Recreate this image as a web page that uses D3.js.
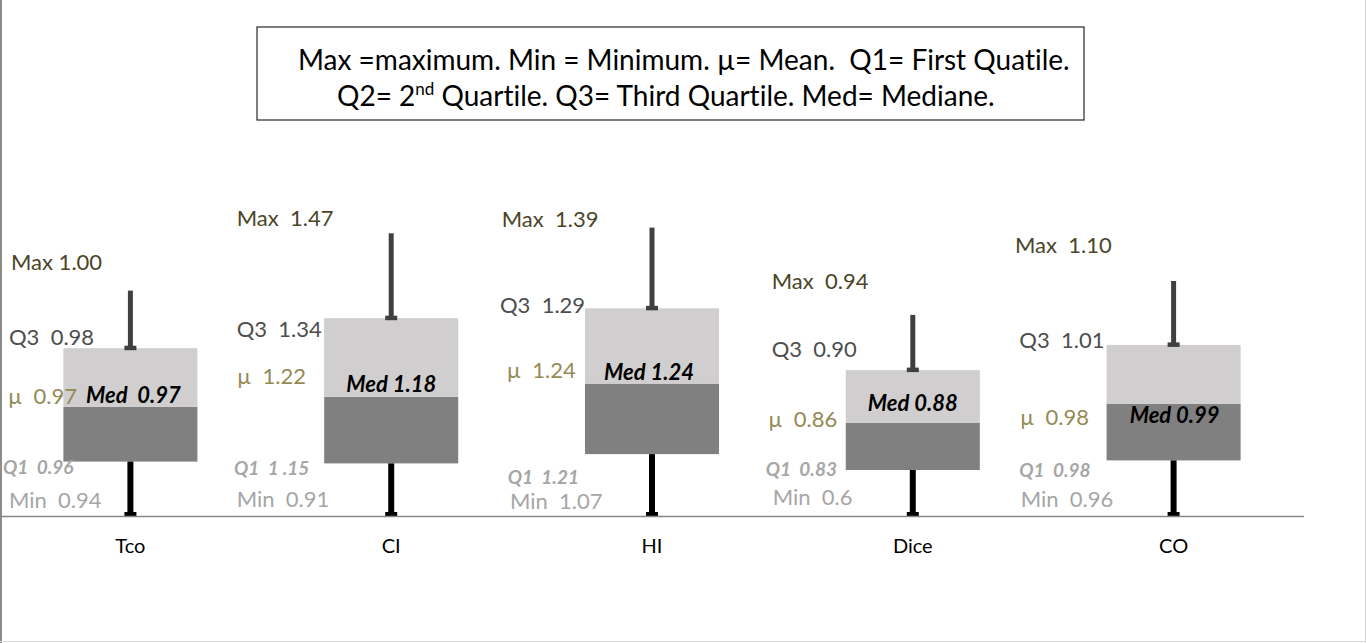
<!DOCTYPE html>
<html>
<head>
<meta charset="utf-8">
<script src="https://cdn.jsdelivr.net/npm/d3@7"></script>
<style>
  html, body { margin: 0; padding: 0; background: #fff; }
  svg { display: block; }
  text { font-family: Lato, "Open Sans", sans-serif; white-space: pre; font-variant-ligatures: none; }
</style>
</head>
<body>
<svg id="chart" width="1366" height="643"></svg>
<script>
// ---- data (hidden-axis units) ----
const categories = ["Tco", "CI", "HI", "Dice", "CO"];
const minPlot = [0, 0, 0, 0, 0];
const q1Plot  = [0.183, 0.177, 0.208, 0.155, 0.187];
const medPlot = [0.366, 0.399, 0.443, 0.313, 0.376];
const q3Plot  = [0.561, 0.661, 0.694, 0.488, 0.572];
const maxPlot = [0.753, 0.944, 0.963, 0.672, 0.785];

// ---- annotation texts ----
const maxLabels  = ["Max 1.00", "Max  1.47", "Max  1.39", "Max  0.94", "Max  1.10"];
const q3Labels   = ["Q3  0.98", "Q3  1.34", "Q3  1.29", "Q3  0.90", "Q3  1.01"];
const meanLabels = ["\u00b5  0.97", "\u00b5  1.22", "\u00b5  1.24", "\u00b5  0.86", "\u00b5  0.98"];
const medLabels  = ["Med  0.97", "Med 1.18", "Med 1.24", "Med 0.88", "Med 0.99"];
const q1Labels   = ["Q1  0.96", "Q1  1 .15", "Q1  1.21", "Q1  0.83", "Q1  0.98"];
const minLabels  = ["Min  0.94", "Min  0.91", "Min  1.07", "Min  0.6", "Min  0.96"];

// ---- layout of hand-placed annotations (offset from band centre, baseline y) ----
const layout = {
  max:  [[-119.4, 270], [-154.5, 226], [-150.3, 226.7], [-141.1, 289], [-158.6, 253.3]],
  q3:   [[-121.4, 345], [-154.5, 336.7], [-152, 313.3], [-141.1, 356.7], [-154.3, 347.7]],
  mean: [[-122.4, 404], [-154.2, 384], [-145.3, 378.3], [-144.5, 426.7], [-153.6, 425]],
  med:  [[3, 403], [0, 391.7], [-3, 380], [0, 410.7], [1, 423.3]],
  q1:   [[-127.4, 474], [-157.2, 475], [-144.3, 484], [-147.1, 475.7], [-154.3, 477.3]],
  min:  [[-121.4, 508], [-154.5, 506.7], [-142, 508.5], [-140.1, 505], [-152.9, 506.7]]
};

const svg = d3.select("#chart");
const W = 1366, H = 643;

const x = d3.scaleBand().domain(categories).range([0, 1304])
  .paddingInner(0.486).paddingOuter(0.243);
const y = d3.scaleLinear().domain([0, 1]).range([516.5, 216.5]);

const rows = categories.map((c, i) => ({
  cat: c, i, min: minPlot[i], q1: q1Plot[i], med: medPlot[i], q3: q3Plot[i], max: maxPlot[i]
}));

// chart frame
svg.append("line").attr("x1", 1).attr("x2", 1).attr("y1", 0).attr("y2", H)
  .attr("stroke", "#8c8c8c").attr("stroke-width", 2);
svg.append("line").attr("x1", 0).attr("x2", W).attr("y1", 641.5).attr("y2", 641.5)
  .attr("stroke", "#d9d9d9").attr("stroke-width", 1);
svg.append("line").attr("x1", 1365.5).attr("x2", 1365.5).attr("y1", 0).attr("y2", H)
  .attr("stroke", "#d9d9d9").attr("stroke-width", 1);

// legend box
const lg = svg.append("g");
lg.append("rect").attr("x", 257).attr("y", 27).attr("width", 827).attr("height", 93)
  .attr("fill", "#fff").attr("stroke", "#262626").attr("stroke-width", 1.2);
lg.append("text").attr("x", 298).attr("y", 70).attr("text-anchor", "start")
  .attr("font-size", 28).attr("fill", "#000")
  .text("Max =maximum. Min = Minimum. \u00b5= Mean.  Q1= First Quatile.");
const l2 = lg.append("text").attr("x", 337).attr("y", 106).attr("text-anchor", "start")
  .attr("font-size", 28).attr("fill", "#000");
l2.append("tspan").text("Q2= 2");
l2.append("tspan").attr("font-size", 17).attr("dy", -11).text("nd");
l2.append("tspan").attr("dy", 11).text(" Quartile. Q3= Third Quartile. Med= Mediane.");

const g = svg.append("g");
const bw = x.bandwidth();
const cx = d => x(d.cat) + bw / 2;

// boxes: lower (Q1..Med) dark, upper (Med..Q3) light
g.selectAll("rect.low").data(rows).join("rect").attr("class", "low")
  .attr("x", d => x(d.cat)).attr("width", bw)
  .attr("y", d => y(d.med)).attr("height", d => y(d.q1) - y(d.med))
  .attr("fill", "#808080");
g.selectAll("rect.up").data(rows).join("rect").attr("class", "up")
  .attr("x", d => x(d.cat)).attr("width", bw)
  .attr("y", d => y(d.q3)).attr("height", d => y(d.med) - y(d.q3))
  .attr("fill", "#D0CECE");

// upper whisker
g.selectAll("line.uw").data(rows).join("line").attr("class", "uw")
  .attr("x1", cx).attr("x2", cx).attr("y1", d => y(d.max)).attr("y2", d => y(d.q3))
  .attr("stroke", "#404040").attr("stroke-width", 5);
g.selectAll("rect.ucap").data(rows).join("rect").attr("class", "ucap")
  .attr("x", d => cx(d) - 6).attr("width", 12)
  .attr("y", d => y(d.q3) - 2.5).attr("height", 4.5).attr("fill", "#404040");

// lower whisker
g.selectAll("line.lw").data(rows).join("line").attr("class", "lw")
  .attr("x1", cx).attr("x2", cx).attr("y1", d => y(d.q1)).attr("y2", d => y(d.min))
  .attr("stroke", "#000").attr("stroke-width", 6);
g.selectAll("rect.lcap").data(rows).join("rect").attr("class", "lcap")
  .attr("x", d => cx(d) - 6).attr("width", 12)
  .attr("y", d => y(d.min) - 4.5).attr("height", 4.5).attr("fill", "#000");

// category axis
const axis = svg.append("g").attr("transform", `translate(0,${y(0)})`)
  .call(d3.axisBottom(x).tickSize(0).tickPadding(22));
axis.select(".domain").attr("stroke", "#868686").attr("stroke-width", 1.6)
  .attr("d", "M0,0H1304");
axis.selectAll("text").attr("font-family", "Lato, sans-serif")
  .attr("font-size", 20).attr("fill", "#000");

// annotations
function annot(labels, key, size, fill, weight, style, anchor) {
  svg.append("g").selectAll("text").data(rows).join("text")
    .attr("x", d => cx(d) + layout[key][d.i][0])
    .attr("y", d => layout[key][d.i][1])
    .attr("font-size", size).attr("fill", fill)
    .attr("font-weight", weight).attr("font-style", style)
    .attr("text-anchor", anchor)
    .text(d => labels[d.i]);
}
annot(maxLabels, "max", 22, "#4a4528", "normal", "normal", "start");
annot(q3Labels, "q3", 22, "#4d4d4d", "normal", "normal", "start");
annot(meanLabels, "mean", 22, "#948a54", "normal", "normal", "start");
annot(q1Labels, "q1", 19, "#a6a6a6", "bold", "italic", "start");
annot(minLabels, "min", 22, "#a6a6a6", "normal", "normal", "start");
annot(medLabels, "med", 22, "#000", "bold", "italic", "middle");
</script>
</body>
</html>
